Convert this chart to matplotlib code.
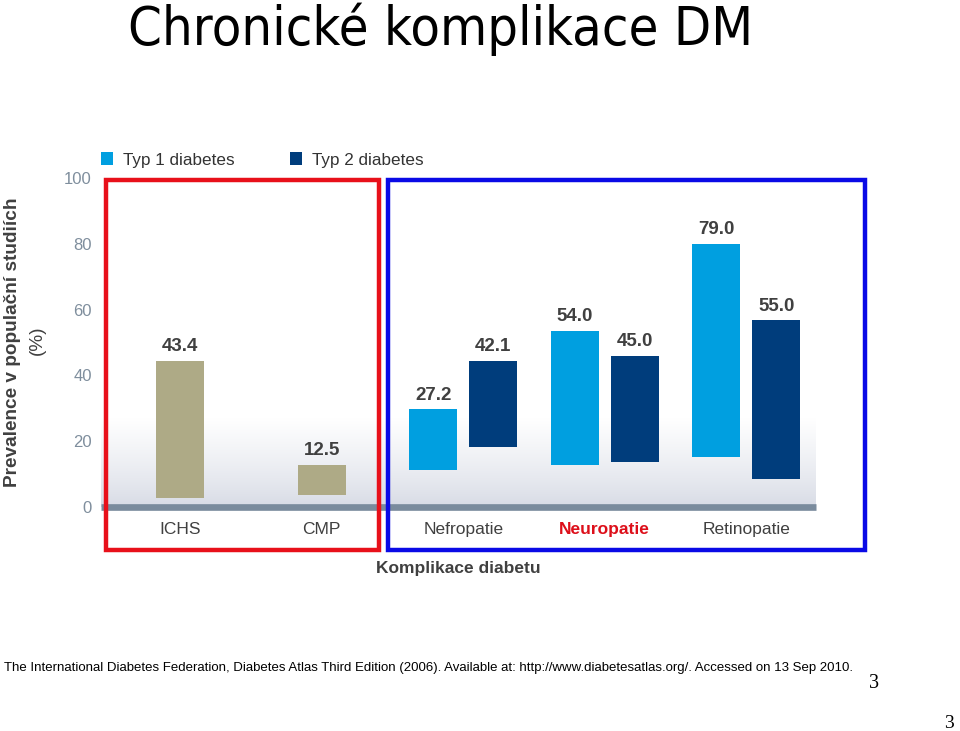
import matplotlib
matplotlib.use("Agg")
import matplotlib.pyplot as plt
import numpy as np
from matplotlib.patches import Rectangle
from matplotlib import font_manager

# data
categories = ["ICHS", "CMP", "Nefropatie", "Neuropatie", "Retinopatie"]
# ICHS and CMP: one combined bar each
comb_top = [44.5, 12.8]
comb_base = [2.8, 3.6]
comb_labels = ["43.4", "12.5"]
# Nefropatie, Neuropatie, Retinopatie
typ1_top = [29.7, 53.6, 79.9]
typ1_base = [11.3, 12.7, 15.1]
typ1_labels = ["27.2", "54.0", "79.0"]
typ2_top = [44.5, 46.0, 56.7]
typ2_base = [18.2, 13.8, 8.6]
typ2_labels = ["42.1", "45.0", "55.0"]
yticks = [0, 20, 40, 60, 80, 100]

W, H = 960, 731
plt.rcParams['font.family'] = ['Liberation Sans', 'DejaVu Sans']
installed = {f.name for f in font_manager.fontManager.ttflist}
narrow = 'Liberation Sans Narrow' if 'Liberation Sans Narrow' in installed else 'Liberation Sans'
foot_size = 10.5 if narrow == 'Liberation Sans Narrow' else 9.53

fig = plt.figure(figsize=(W / 100, H / 100), dpi=100)
ax = fig.add_axes([101 / W, (H - 507) / H, (816 - 101) / W, 329 / H])
ax.set_xlim(-0.56, 4.493)
ax.set_ylim(0, 100)

# floor gradient
t = np.linspace(0, 1, 200)[:, None]
bot = np.array([0.84, 0.855, 0.895])
img = bot + (1 - bot) * t[..., None] ** 0.8
ax.imshow(img, extent=(-0.56, 4.493, 0, 27), origin='lower', aspect='auto', zorder=0)

x = np.arange(len(categories))
bw = 0.339
off = 0.212
tan, light, dark = '#aeaa86', '#009fe0', '#003d7c'

comb_top, comb_base = np.array(comb_top), np.array(comb_base)
typ1_top, typ1_base = np.array(typ1_top), np.array(typ1_base)
typ2_top, typ2_base = np.array(typ2_top), np.array(typ2_base)

ax.bar(x[:2], comb_top - comb_base, bottom=comb_base, width=bw, color=tan, zorder=3)
b1 = ax.bar(x[2:] - off, typ1_top - typ1_base, bottom=typ1_base, width=bw, color=light, zorder=3)
b2 = ax.bar(x[2:] + off, typ2_top - typ2_base, bottom=typ2_base, width=bw, color=dark, zorder=3)

def put_labels(xs, tops, labels):
    for xi, yi, s in zip(xs, tops, labels):
        ax.annotate(s, (xi, yi), xytext=(0, 7), textcoords='offset points',
                    ha='center', va='baseline', fontsize=13.5, fontweight='bold',
                    color='#404040')

put_labels(x[:2], comb_top, comb_labels)
put_labels(x[2:] - off, typ1_top, typ1_labels)
put_labels(x[2:] + off, typ2_top, typ2_labels)

ax.axhline(0, color='#7a8b9d', lw=4.8, zorder=2, clip_on=False, solid_capstyle='butt')

for s in ax.spines.values():
    s.set_visible(False)
ax.set_yticks(yticks)
ax.tick_params(axis='y', length=0, pad=6.5, labelsize=12, labelcolor='#7f8e9d')
ax.set_xticks(x)
ax.set_xticklabels(categories)
ax.tick_params(axis='x', length=0, pad=10.5, labelsize=12.5, labelcolor='#404040')
lab = ax.get_xticklabels()[3]
lab.set_color('#dd0f1a')
lab.set_fontweight('bold')

fig.legend([b1, b2], ["Typ 1 diabetes", "Typ 2 diabetes"], loc='center left',
           bbox_to_anchor=(101 / W, 1 - 160 / H), ncol=2, frameon=False,
           fontsize=12.3, handlelength=0.73, handleheight=0.73, handletextpad=0.57,
           columnspacing=3.2, borderaxespad=0, borderpad=0, labelcolor='#333333')

fig.text(441 / W, 1 - 29 / H, "Chronické komplikace DM", ha='center', va='center',
         fontsize=38.9, family='DejaVu Sans', fontstretch='condensed')

fig.text(458 / W, 1 - 568 / H, "Komplikace diabetu", ha='center', va='center',
         fontsize=12.5, fontweight='bold', color='#404040')
fig.text(13 / W, 1 - 342 / H, "Prevalence v populační studiích", ha='center', va='center',
         rotation=90, fontsize=13.7, fontweight='bold', color='#404040')
fig.text(37 / W, 1 - 340 / H, "(%)", ha='center', va='center',
         rotation=90, fontsize=13.7, color='#404040')

fig.add_artist(Rectangle((106 / W, 1 - 550 / H), 273 / W, 370 / H, transform=fig.transFigure,
                         fill=False, ec='#e8101a', lw=3.2))
fig.add_artist(Rectangle((388 / W, 1 - 550 / H), 477 / W, 370 / H, transform=fig.transFigure,
                         fill=False, ec='#0a0ae6', lw=3.2))

fig.text(4 / W, 1 - 668 / H,
         "The International Diabetes Federation, Diabetes Atlas Third Edition (2006). "
         "Available at: http://www.diabetesatlas.org/. Accessed on 13 Sep 2010.",
         va='center', ha='left', fontsize=foot_size, family=narrow)
fig.text(874 / W, 1 - 684 / H, "3", ha='center', va='center', fontsize=14.5, family='Liberation Serif')
fig.text(949 / W, 1 - 723 / H, "3", ha='center', va='center', fontsize=14, family='Liberation Serif')

fig.savefig("out.png", dpi=100)
